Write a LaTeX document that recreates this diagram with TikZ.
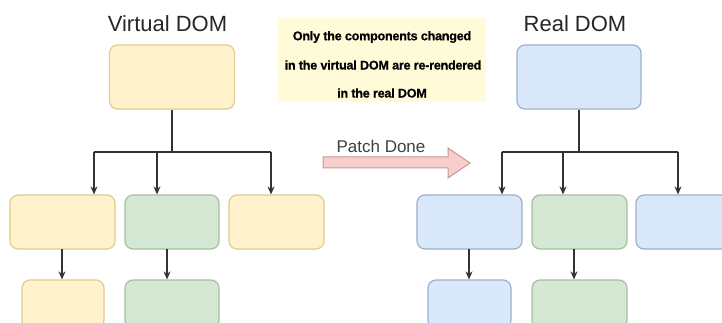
\documentclass[tikz,border=0pt]{standalone}
\usepackage{fontspec}
\setmainfont{Liberation Sans}
\newfontfamily\notefont[FakeBold=0.6,LetterSpace=-2]{Liberation Sans Bold}
\usetikzlibrary{arrows.meta}
\definecolor{ylwfill}{HTML}{FFF2CC}
\definecolor{ylwline}{HTML}{E0CC8E}
\definecolor{grnfill}{HTML}{D5E8D4}
\definecolor{grnline}{HTML}{A6BF9F}
\definecolor{blufill}{HTML}{DAE8FC}
\definecolor{bluline}{HTML}{9DB0CB}
\definecolor{notefill}{HTML}{FFFAD8}
\definecolor{patchfill}{HTML}{F8CECC}
\definecolor{patchline}{HTML}{C49A98}
\definecolor{wire}{HTML}{333333}
\begin{document}
\begin{tikzpicture}[x=1pt,y=-1pt,
  box/.style={rectangle,rounded corners=8pt,line width=1.2pt,inner sep=0pt},
  ybox/.style={box,fill=ylwfill,draw=ylwline},
  gbox/.style={box,fill=grnfill,draw=grnline},
  bbox/.style={box,fill=blufill,draw=bluline},
  title/.style={font=\fontsize{22}{26}\selectfont,text=black!85},
  wireline/.style={draw=wire,line width=1.3pt},
  wirearrow/.style={wireline,-{Stealth[length=8pt,width=7pt]}},
  notetext/.style={font=\notefont\fontsize{12.6}{14}\selectfont,text=black}]
\useasboundingbox (0,0) rectangle (722,323);
\clip (0,0) rectangle (722,323);
\fill[white] (0,0) rectangle (722,323);

% ---- Virtual DOM tree ----
\node[title] (vtitle) at (167.5,24) {Virtual DOM};
\node[ybox,minimum width=125pt,minimum height=64pt] (vroot) at (172,77) {};
\node[ybox,minimum width=105pt,minimum height=54pt] (va) at (62.5,222) {};
\node[gbox,minimum width=94pt,minimum height=54pt] (vb) at (172,222) {};
\node[ybox,minimum width=95pt,minimum height=54pt] (vc) at (276.5,222) {};
\node[ybox,minimum width=82pt,minimum height=48pt] (vd) at (63,304) {};
\node[gbox,minimum width=94pt,minimum height=48pt] (ve) at (172,304) {};

\coordinate (vj) at (172,152);
\coordinate (vj1) at (94,152);
\coordinate (vj2) at (157,152);
\coordinate (vj3) at (271,152);
\draw[wireline] (vroot.south) -- (vj);
\draw[wireline] (vj1) -- (vj3);
\draw[wirearrow] (vj1) -- (vj1 |- va.north);
\draw[wirearrow] (vj2) -- (vj2 |- vb.north);
\draw[wirearrow] (vj3) -- (vj3 |- vc.north);
\coordinate (va1) at (62,249);
\coordinate (vb1) at (167,249);
\draw[wirearrow] (va1) -- (va1 |- vd.north);
\draw[wirearrow] (vb1) -- (vb1 |- ve.north);

% ---- Real DOM tree ----
\node[title] (rtitle) at (575,24) {Real DOM};
\node[bbox,minimum width=124pt,minimum height=64pt] (rroot) at (579,77) {};
\node[bbox,minimum width=105pt,minimum height=54pt] (ra) at (469.5,222) {};
\node[gbox,minimum width=95pt,minimum height=54pt] (rb) at (579.5,222) {};
\node[bbox,minimum width=95pt,minimum height=54pt] (rc) at (683.5,222) {};
\node[bbox,minimum width=83pt,minimum height=48pt] (rd) at (469.5,304) {};
\node[gbox,minimum width=95pt,minimum height=48pt] (re) at (579.5,304) {};

\coordinate (rj) at (579,152);
\coordinate (rj1) at (502,152);
\coordinate (rj2) at (563,152);
\coordinate (rj3) at (678,152);
\draw[wireline] (rroot.south) -- (rj);
\draw[wireline] (rj1) -- (rj3);
\draw[wirearrow] (rj1) -- (rj1 |- ra.north);
\draw[wirearrow] (rj2) -- (rj2 |- rb.north);
\draw[wirearrow] (rj3) -- (rj3 |- rc.north);
\coordinate (ra1) at (469,249);
\coordinate (rb1) at (574,249);
\draw[wirearrow] (ra1) -- (ra1 |- rd.north);
\draw[wirearrow] (rb1) -- (rb1 |- re.north);

% ---- note ----
\node[fill=notefill,minimum width=208pt,minimum height=84pt,inner sep=0pt] (note) at (382,60) {};
\node[notetext] (n1) at (382,37) {Only the components changed};
\node[notetext] (n2) at (383,65) {in the virtual DOM are re-rendered};
\node[notetext] (n3) at (382,93) {in the real DOM};

% ---- patch arrow ----
\node[font=\fontsize{17}{20}\selectfont,text=black!75] (patch) at (381,146) {Patch Done};
\draw[fill=patchfill,draw=patchline,line width=1pt,line join=miter]
  (323,157) -- (448,157) -- (448,148) -- (470,163) -- (448,178) -- (448,168) -- (323,168) -- cycle;
\end{tikzpicture}
\end{document}
